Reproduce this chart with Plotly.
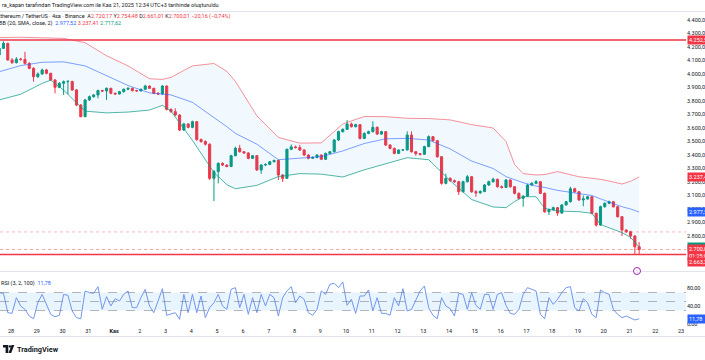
import plotly.graph_objects as go
import pandas as pd

# ---------------- data ----------------
opens = [4141,4190,4227,4104,4084,4110,4108,4079,4042,3980, 4000,4030,4005,3956,3901,3931,3943,3945,3882,3770,
         3684,3808,3832,3845,3877,3874,3894,3857,3852,3869, 3887,3894,3877,3875,3887,3911,3894,3857,3852,3911,
         3738,3721,3696,3585,3630,3605,3647,3515,3500,3480, 3227,3277,3338,3325,3315,3395,3450,3424,3415,3375,
         3395,3289,3326,3330,3350,3360,3252,3227,3442,3460, 3455,3437,3400,3375,3382,3400,3368,3412,3424,3511,
         3573,3590,3629,3610,3625,3523,3560,3573,3605,3555, 3573,3474,3449,3412,3437,3438,3548,3424,3410,3405,
         3462,3536,3506,3387,3190,3227,3210,3202,3128,3202, 3239,3128,3120,3130,3178,3202,3220,3165,3160,3215,
         3165,3116,3079,3095,3178,3190,3202,3116,2980,2995, 3010,2970,3030,3054,3150,3128,3067,3075,3091,2968,
         2881,3017,3042,3054,3017,2943,2844,2832,2800,2720.17]
closes = [4190,4227,4104,4084,4110,4108,4079,4042,3980,4000, 4030,4005,3956,3901,3931,3943,3945,3882,3770,3684,
          3808,3832,3845,3877,3874,3894,3857,3852,3869,3887, 3894,3877,3875,3887,3911,3894,3857,3852,3911,3738,
          3721,3696,3585,3630,3605,3647,3515,3500,3480,3227, 3277,3338,3325,3315,3395,3450,3424,3415,3375,3395,
          3289,3326,3330,3350,3360,3252,3227,3442,3460,3455, 3437,3400,3375,3382,3400,3368,3412,3424,3511,3573,
          3590,3629,3610,3625,3523,3560,3573,3605,3555,3573, 3474,3449,3412,3437,3438,3548,3424,3410,3405,3462,
          3536,3506,3387,3190,3227,3210,3202,3128,3202,3239, 3128,3120,3130,3178,3202,3220,3165,3160,3215,3165,
          3116,3079,3095,3178,3190,3202,3116,2980,2995,3010, 2970,3030,3054,3150,3128,3067,3075,3091,2968,2881,
          3017,3042,3054,3017,2943,2844,2832,2800,2720.17,2700.01]
highs = [4200,4242,4232,4118,4125,4120,4165,4088,4050,4012, 4040,4038,4010,3962,3940,3952,3955,3950,3888,3778,
         3815,3840,3852,3885,3884,3900,3898,3862,3875,3893, 3902,3899,3883,3892,3920,3915,3898,3865,3918,3915,
         3746,3746,3702,3638,3636,3655,3652,3522,3508,3486, 3290,3345,3345,3332,3402,3462,3475,3430,3420,3400,
         3400,3332,3338,3356,3365,3365,3258,3448,3478,3470, 3475,3442,3405,3390,3406,3404,3418,3430,3518,3580,
         3598,3660,3640,3632,3630,3568,3580,3650,3612,3580, 3578,3480,3455,3442,3444,3575,3575,3430,3415,3468,
         3545,3540,3512,3392,3262,3235,3218,3208,3210,3252, 3244,3140,3138,3185,3210,3232,3225,3175,3222,3220,
         3170,3122,3102,3185,3198,3215,3208,3122,3002,3018, 3015,3036,3060,3165,3158,3132,3100,3098,3096,2972,
         3025,3050,3062,3060,3022,2948,2850,2838,2806,2754.48]
lows = [4132,4185,4098,4075,4078,4098,4070,4035,3943,3972, 3995,3998,3948,3857,3895,3845,3850,3875,3762,3680,
        3680,3800,3825,3820,3866,3808,3850,3845,3848,3862, 3880,3870,3868,3870,3882,3888,3850,3845,3848,3730,
        3712,3688,3578,3578,3598,3598,3505,3490,3470,3215, 3058,3190,3318,3308,3310,3390,3418,3408,3368,3370,
        3282,3260,3318,3325,3345,3215,3200,3222,3436,3448, 3430,3392,3368,3370,3376,3362,3364,3405,3420,3505,
        3566,3585,3603,3604,3515,3518,3554,3566,3548,3550, 3466,3442,3405,3408,3430,3432,3418,3395,3396,3400,
        3458,3500,3380,3180,3182,3200,3194,3104,3122,3196, 3120,3090,3112,3124,3170,3195,3158,3152,3155,3158,
        3108,3070,3017,3090,3172,3184,3110,2972,2955,2988, 2950,2965,3025,3048,3120,3060,3020,3068,2960,2870,
        2876,3010,3035,3010,2936,2800,2822,2780,2660,2661.01]

# Bollinger band values read at selected candle indices
bb_idx = [0, 5, 10, 12, 15, 20, 25, 30, 35, 38, 40, 45, 50, 53, 55, 60, 65, 70, 75, 80, 85, 90, 95, 100,
          105, 110, 115, 118, 120, 122, 125, 127, 130, 135, 138, 140, 143, 145, 147, 149]
bb_upper = [4270, 4272, 4268, 4268, 4264, 4232, 4135, 4060, 3965, 3960, 3975, 4060, 4078, 4020, 3945, 3690,
            3530, 3488, 3490, 3630, 3685, 3684, 3672, 3670, 3660, 3625, 3600, 3500, 3330, 3262, 3252, 3255,
            3277, 3239, 3225, 3220, 3200, 3185, 3205, 3237.41]
bb_mid = [4017, 4062, 4087, 4090, 4090, 4060, 3985, 3915, 3860, 3852, 3845, 3790, 3680, 3610, 3560, 3480,
          3365, 3375, 3388, 3430, 3485, 3520, 3523, 3511, 3445, 3355, 3300, 3240, 3215, 3195, 3170, 3160,
          3138, 3115, 3100, 3075, 3040, 3017, 3000, 2977.52]
bb_lower = [3808, 3850, 3930, 3955, 3880, 3725, 3712, 3718, 3733, 3768, 3725, 3508, 3270, 3180, 3150, 3175,
            3240, 3262, 3258, 3237, 3290, 3335, 3380, 3365, 3210, 3070, 3015, 3010, 3055, 3091, 3091, 3005,
            2985, 2980, 2968, 2885, 2848, 2825, 2790, 2717.62]

rsi = [69.7,68.2,25.2,23.7,58.5,40,32.6,17.8,11.8,47.4,
       65.9,43.7,21.5,16.3,19.3,65.9,63.7,28.9,14.1,11.8,
       73.4,69.7,68.2,83,32.6,60.8,40,56.3,51.1,65.9,
       73.4,36.3,36.3,58.5,77.1,40,25.2,51.1,78.5,19.3,
       21.5,25.2,10.4,65.9,25.2,65.9,25.2,62.2,14.1,36.3,
       47.4,65.9,40,32.6,77.1,80.8,36.3,65.9,21.5,58.5,
       25.2,65.9,40,65.9,58.5,17.8,58.5,73.4,83,47.4,
       62.2,54.8,25.2,19.3,
       32.6,73.4,65.9,88.2,90.4,80.8,93.4,41.5,54.8,23.7,
       62.2,62.2,75.6,28.9,58.5,23.7,23.7,19.3,58.5,40,
       78.5,28.9,32.6,54.8,73.4,84.5,36.3,19.3,11.8,58.5,
       40,34.1,17.8,68.2,65.9,32.6,69.7,41.5,32.6,65.9,
       65.9,32.6,65.9,69.7,41.5,23.7,21.5,32.6,65.9,80.8,
       77.1,73.4,21.5,11.8,58.5,43.7,54.8,69.7,80.8,83,
       36.3,28.9,56.3,47.4,21.5,14.1,75.6,69.7,65.9,32.6,
       21.5,14.1,17.8,14.1,8.9,11.78]

price_ticks = [2800, 2900, 3000, 3100, 3200, 3300, 3400, 3500, 3600, 3700, 3800, 3900, 4000, 4100, 4200, 4300, 4400]
day_labels = ["28", "29", "30", "31", "<b>Kas</b>", "2", "3", "4", "5", "6", "7", "8", "9", "10", "11", "12",
              "13", "14", "15", "16", "17", "18", "19", "20", "21", "22", "23"]
rsi_ticks = [0, 40, 80]
rsi_tick_labels = ["0,00", "40,00", "80,00"]

hlines_solid = [4252.50, 2663.25]
hline_faint = 2830
last_price = 2700.01

# ---------------- layout helpers ----------------
W, H = 705, 360
RED, GREEN, BLUE = "#F23645", "#089981", "#2962FF"
TXT = "#131722"
FONT = "Roboto"


def px(X):
    return X / W


def py(Y):
    return 1 - Y / H


times = pd.date_range("2025-10-27 13:00", periods=len(closes), freq="4h")
bb_x = [times[i] for i in bb_idx]
day_ticks = pd.date_range("2025-10-28", periods=len(day_labels), freq="D")

day0 = pd.Timestamp("2025-10-28")
ppd = 25.77
x_left = day0 - pd.Timedelta(days=11 / ppd)
x_right = day0 + pd.Timedelta(days=(686 - 11) / ppd)
PLOT_R = 686

fig = go.Figure()

fig.add_trace(go.Scatter(x=bb_x, y=bb_upper, mode="lines", line=dict(color="rgba(242,54,69,0.55)", width=1),
                         hoverinfo="skip", xaxis="x", yaxis="y"))
fig.add_trace(go.Scatter(x=bb_x, y=bb_lower, mode="lines", line=dict(color="rgba(8,153,129,0.7)", width=1),
                         fill="tonexty", fillcolor="rgba(33,150,243,0.06)", hoverinfo="skip", xaxis="x", yaxis="y"))
fig.add_trace(go.Scatter(x=bb_x, y=bb_mid, mode="lines", line=dict(color="rgba(41,98,255,0.6)", width=1),
                         hoverinfo="skip", xaxis="x", yaxis="y"))

fig.add_trace(go.Candlestick(x=times, open=opens, high=highs, low=lows, close=closes,
                             increasing=dict(line=dict(color=GREEN, width=1), fillcolor=GREEN),
                             decreasing=dict(line=dict(color=RED, width=1), fillcolor=RED),
                             whiskerwidth=0, xaxis="x", yaxis="y"))

fig.add_trace(go.Scatter(x=times, y=rsi, mode="lines", line=dict(color="#7397ec", width=1),
                         hoverinfo="skip", xaxis="x2", yaxis="y2"))

shapes = []
# pane separators
for Y in (11.5, 271.5, 336.5):
    shapes.append(dict(type="line", xref="paper", yref="paper", x0=0, x1=1, y0=py(Y), y1=py(Y),
                       line=dict(color="#e0e3eb", width=1)))
# horizontal levels
for v in hlines_solid:
    shapes.append(dict(type="line", xref="paper", yref="y", x0=0, x1=px(PLOT_R), y0=v, y1=v,
                       line=dict(color=RED, width=1.5)))
shapes.append(dict(type="line", xref="paper", yref="y", x0=0, x1=px(PLOT_R), y0=hline_faint, y1=hline_faint,
                   line=dict(color="rgba(242,54,69,0.35)", width=1, dash="dot")))
shapes.append(dict(type="line", xref="paper", yref="y", x0=0, x1=px(PLOT_R), y0=last_price, y1=last_price,
                   line=dict(color="rgba(242,54,69,0.45)", width=1, dash="dot")))
# RSI band
shapes.append(dict(type="rect", xref="paper", yref="y2", x0=0, x1=px(PLOT_R), y0=30, y1=70,
                   fillcolor="rgba(33,150,243,0.1)", line=dict(width=0), layer="below"))
for v in (30, 50, 70):
    shapes.append(dict(type="line", xref="paper", yref="y2", x0=0, x1=px(PLOT_R), y0=v, y1=v,
                       line=dict(color="rgba(120,123,134,0.55)", width=1, dash="dash")))
# event icon
shapes.append(dict(type="circle", xref="paper", yref="paper", x0=px(633.5), x1=px(640.5), y0=py(274.5), y1=py(267.5),
                   line=dict(color="#9c27b0", width=1), fillcolor="white"))


# TradingView logo
def path_px(pts):
    return "M " + " L ".join(f"{px(a):.5f} {py(b):.5f}" for a, b in pts) + " Z"


shapes.append(dict(type="path", xref="paper", yref="paper",
                   path=path_px([(3, 345), (8.3, 345), (8.3, 353), (5.6, 353), (5.6, 347.6), (3, 347.6)]),
                   fillcolor=TXT, line=dict(width=0)))
shapes.append(dict(type="circle", xref="paper", yref="paper", x0=px(8.8), x1=px(11.2), y0=py(347.6), y1=py(345.2),
                   fillcolor=TXT, line=dict(width=0)))
shapes.append(dict(type="path", xref="paper", yref="paper",
                   path=path_px([(11.6, 345), (14.3, 345), (11.2, 353), (8.5, 353)]),
                   fillcolor=TXT, line=dict(width=0)))

ann = []


def text(X, Y, s, size=5.5, color=TXT, anchor="left", bold=False):
    ann.append(dict(xref="paper", yref="paper", x=px(X), y=py(Y), text=(f"<b>{s}</b>" if bold else s),
                    showarrow=False, xanchor=anchor, yanchor="middle",
                    font=dict(family=FONT, size=size, color=color)))


text(0, 5.5, "ra_kapan tarafından TradingView.com ile Kas 21, 2025 12:34 UTC+3 tarihinde oluşturuldu")
r = lambda s: f"<span style='color:{RED}'>{s}</span>"
text(-5, 16.5, "Ethereum / TetherUS · 4sa · Binance  A" + r("2.720,17") + " Y" + r("2.754,48") + " D" +
     r("2.661,01") + " K" + r("2.700,01") + " " + r("−20,16 (−0,74%)"))
text(-3.5, 23.5, "BB (20, SMA, close, 2)  <span style='color:#2962FF'>2.977,52</span> "
     f"<span style='color:{RED}'>3.237,41</span> <span style='color:{GREEN}'>2.717,62</span>")
text(-1, 283, "RSI (3, 2, 100)  <span style='color:#2962FF'>11,78</span>")
text(14.5, 349, "TradingView", size=7.3, bold=True)
text(637, 271, "ϟ", size=5, color="#9c27b0", anchor="center")


# price tags on the right scale
def tag(v, s, bg, yref="y", dy=0):
    ann.append(dict(xref="paper", yref=yref, x=px(PLOT_R + 1), y=v, text=s, showarrow=False,
                    xanchor="left", yanchor="middle", yshift=dy, bgcolor=bg, borderpad=1,
                    font=dict(family=FONT, size=5.5, color="white"), align="left"))


tag(4252.50, "4.252,50 ", RED)
tag(3237.41, "3.237,41 ", RED)
tag(2977.52, "2.977,52 ", BLUE)
tag(2717.62, "2.717,62 ", GREEN)
tag(last_price, "2.700,01 <br>01:25:08 ", RED, dy=-3)
tag(2663.25, "2.663,25 ", RED, dy=-8)
tag(11.78, "11,78 ", BLUE, yref="y2")

fig.update_layout(
    width=W, height=H, autosize=False,
    margin=dict(l=0, r=0, t=0, b=0),
    paper_bgcolor="white", plot_bgcolor="white",
    showlegend=False, separators=",.",
    font=dict(family=FONT, size=5.5, color=TXT),
    shapes=shapes, annotations=ann,
    xaxis=dict(domain=[0, px(PLOT_R)], anchor="y", range=[x_left, x_right], showticklabels=False,
               showgrid=False, zeroline=False, showline=False, rangeslider=dict(visible=False),
               automargin=False, fixedrange=True),
    xaxis2=dict(domain=[0, px(PLOT_R)], anchor="y2", matches="x", range=[x_left, x_right],
                tickmode="array", tickvals=list(day_ticks), ticktext=day_labels, ticks="",
                tickfont=dict(family=FONT, size=5.5, color=TXT), showgrid=False, zeroline=False,
                showline=False, automargin=False),
    yaxis=dict(domain=[py(270), py(12)], range=[2548.1, 4459.3], side="right", tickmode="array",
               tickvals=price_ticks, tickformat=",.2f", ticks="", showgrid=False, zeroline=False,
               showline=False, tickfont=dict(family=FONT, size=5.5, color=TXT), automargin=False),
    yaxis2=dict(domain=[py(326), py(275)], range=[-4.4, 108.9], side="right", tickmode="array",
                tickvals=rsi_ticks, ticktext=rsi_tick_labels, ticks="", showgrid=False, zeroline=False,
                showline=False, tickfont=dict(family=FONT, size=5.5, color=TXT), automargin=False),
)

fig.write_html("out.html", config={"displayModeBar": False},
               post_script="document.body.style.margin='0';document.body.style.padding='0';")
